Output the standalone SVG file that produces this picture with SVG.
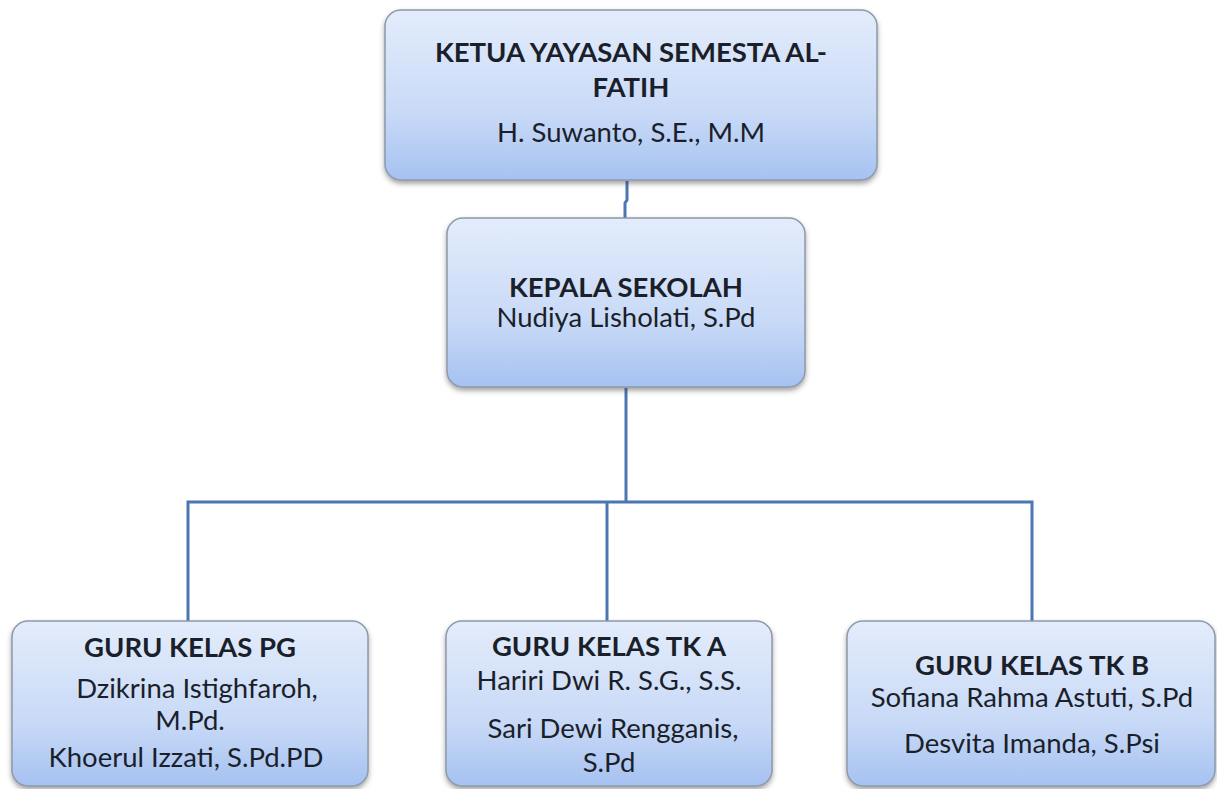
<svg xmlns="http://www.w3.org/2000/svg" width="1217" height="789" viewBox="0 0 1217 789">
<defs>
<linearGradient id="g" x1="0" y1="0" x2="0" y2="1">
<stop offset="0" stop-color="#e3ecfb"/>
<stop offset="0.6" stop-color="#c9daf7"/>
<stop offset="1" stop-color="#a6c2f1"/>
</linearGradient>
<filter id="sh" x="-5%" y="-5%" width="110%" height="120%">
<feDropShadow dx="0" dy="3" stdDeviation="2.5" flood-color="#333" flood-opacity="0.45"/>
</filter>
</defs>
<style>
.box{fill:url(#g);stroke:#8d99a8;stroke-width:1.5;filter:url(#sh)}
.conn{fill:none;stroke:#4b76b1;stroke-width:3}
text{font-family:Lato,"Liberation Sans",sans-serif;fill:#1b1f2a;text-anchor:middle;font-size:27.5px}
.b{font-weight:bold}
</style>
<rect width="1217" height="789" fill="#ffffff"/>
<g id="connectors">
<path class="conn" d="M627 181 V200 L625 203 V219"/>
<path class="conn" d="M626 388 V502"/>
<path class="conn" d="M188 622 V502 H1032 V622"/>
<path class="conn" d="M607 502 V622"/>
</g>
<g id="ketua">
<rect class="box" x="385" y="10" width="492" height="170" rx="16"/>
<text class="b" x="631" y="62">KETUA YAYASAN SEMESTA AL-</text>
<text class="b" x="631" y="97">FATIH</text>
<text x="631" y="142">H. Suwanto, S.E., M.M</text>
</g>
<g id="kepala">
<rect class="box" x="447" y="218" width="358" height="169" rx="16"/>
<text class="b" x="626" y="297">KEPALA SEKOLAH</text>
<text x="626" y="327">Nudiya Lisholati, S.Pd</text>
</g>
<g id="guru-pg">
<rect class="box" x="12" y="621" width="356" height="165" rx="16"/>
<text class="b" x="190" y="657">GURU KELAS PG</text>
<text x="197" y="698">Dzikrina Istighfaroh,</text>
<text x="190" y="730">M.Pd.</text>
<text x="186" y="767">Khoerul Izzati, S.Pd.PD</text>
</g>
<g id="guru-tka">
<rect class="box" x="446" y="621" width="326" height="165" rx="16"/>
<text class="b" x="609" y="656">GURU KELAS TK A</text>
<text x="609" y="690">Hariri Dwi R. S.G., S.S.</text>
<text x="613" y="738">Sari Dewi Rengganis,</text>
<text x="609" y="772">S.Pd</text>
</g>
<g id="guru-tkb">
<rect class="box" x="847" y="621" width="368" height="165" rx="16"/>
<text class="b" x="1032" y="675">GURU KELAS TK B</text>
<text x="1032" y="707">Sofiana Rahma Astuti, S.Pd</text>
<text x="1032" y="753">Desvita Imanda, S.Psi</text>
</g>
</svg>
